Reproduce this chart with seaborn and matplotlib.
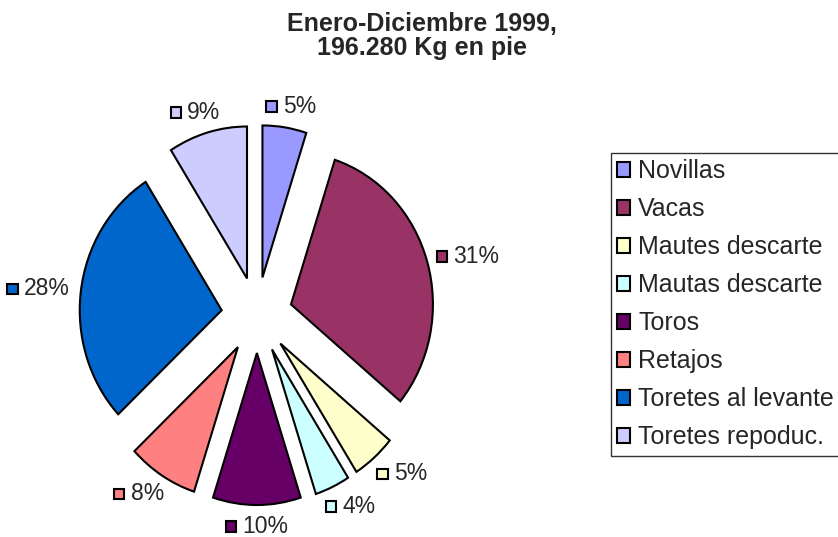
import matplotlib.pyplot as plt
import numpy as np
import seaborn as sns
from matplotlib.offsetbox import AnnotationBbox, DrawingArea, HPacker, TextArea
from matplotlib.patches import Rectangle

categories = ["Novillas", "Vacas", "Mautes descarte", "Mautas descarte", "Toros",
              "Retajos", "Toretes al levante", "Toretes repoduc."]
shares = [5, 31, 5, 4, 10, 8, 28, 9]
colors = ["#9999FF", "#993366", "#FFFFCC", "#CCFFFF", "#660066",
          "#FF8080", "#0066CC", "#CCCCFF"]
title = "Enero-Diciembre 1999,\n196.280 Kg en pie"

sns.set_style("white")
plt.rcParams["font.family"] = ["Liberation Sans", "DejaVu Sans"]

W, H = 838, 537
fig = plt.figure(figsize=(W / 100, H / 100), dpi=100)
# pie axes, stretched a little vertically like the original
ax = fig.add_axes([1.4 / W, 9.2 / H, 511 / W, 425.6 / H])

wedges, _ = ax.pie(
    shares,
    colors=colors,
    startangle=90,
    counterclock=False,
    explode=[0.25] * len(shares),
    wedgeprops=dict(edgecolor="black", linewidth=1.5),
)
ax.set_aspect("auto")
ax.set_xlim(-1.8, 1.8)
ax.set_ylim(-1.4, 1.4)

# data labels: small coloured square + percentage, centred outside each wedge
rx, ry = 1.3, 1.14
for w, c, v in zip(wedges, colors, shares):
    mid = np.deg2rad((w.theta1 + w.theta2) / 2)
    cx, cy = w.center
    x, y = cx + rx * np.cos(mid), cy + ry * np.sin(mid)
    da = DrawingArea(8, 8)
    da.add_artist(Rectangle((0, 0), 7.5, 7.5, facecolor=c, edgecolor="black", lw=1.5))
    ta = TextArea(f"{v}%", textprops=dict(fontsize=16.5))
    box = HPacker(children=[da, ta], align="center", pad=0, sep=4)
    ab = AnnotationBbox(box, (x, y), box_alignment=(0.5, 0.5),
                        frameon=False, pad=0, annotation_clip=False)
    ax.add_artist(ab)

fig.text(422 / W, 1 - 36 / H, title, ha="center", va="center",
         fontsize=18, fontweight="bold", linespacing=1.0)

leg = fig.legend(
    wedges, categories,
    loc="upper left", bbox_to_anchor=(611 / W, 1 - 153 / H),
    fontsize=18, frameon=True, fancybox=False, edgecolor="black",
    handlelength=0.52, handleheight=0.52, handletextpad=0.32,
    labelspacing=0.56, borderpad=0.25, borderaxespad=0,
)
leg.get_frame().set_linewidth(1)

fig.savefig("out.png", dpi=100)
plt.close(fig)
